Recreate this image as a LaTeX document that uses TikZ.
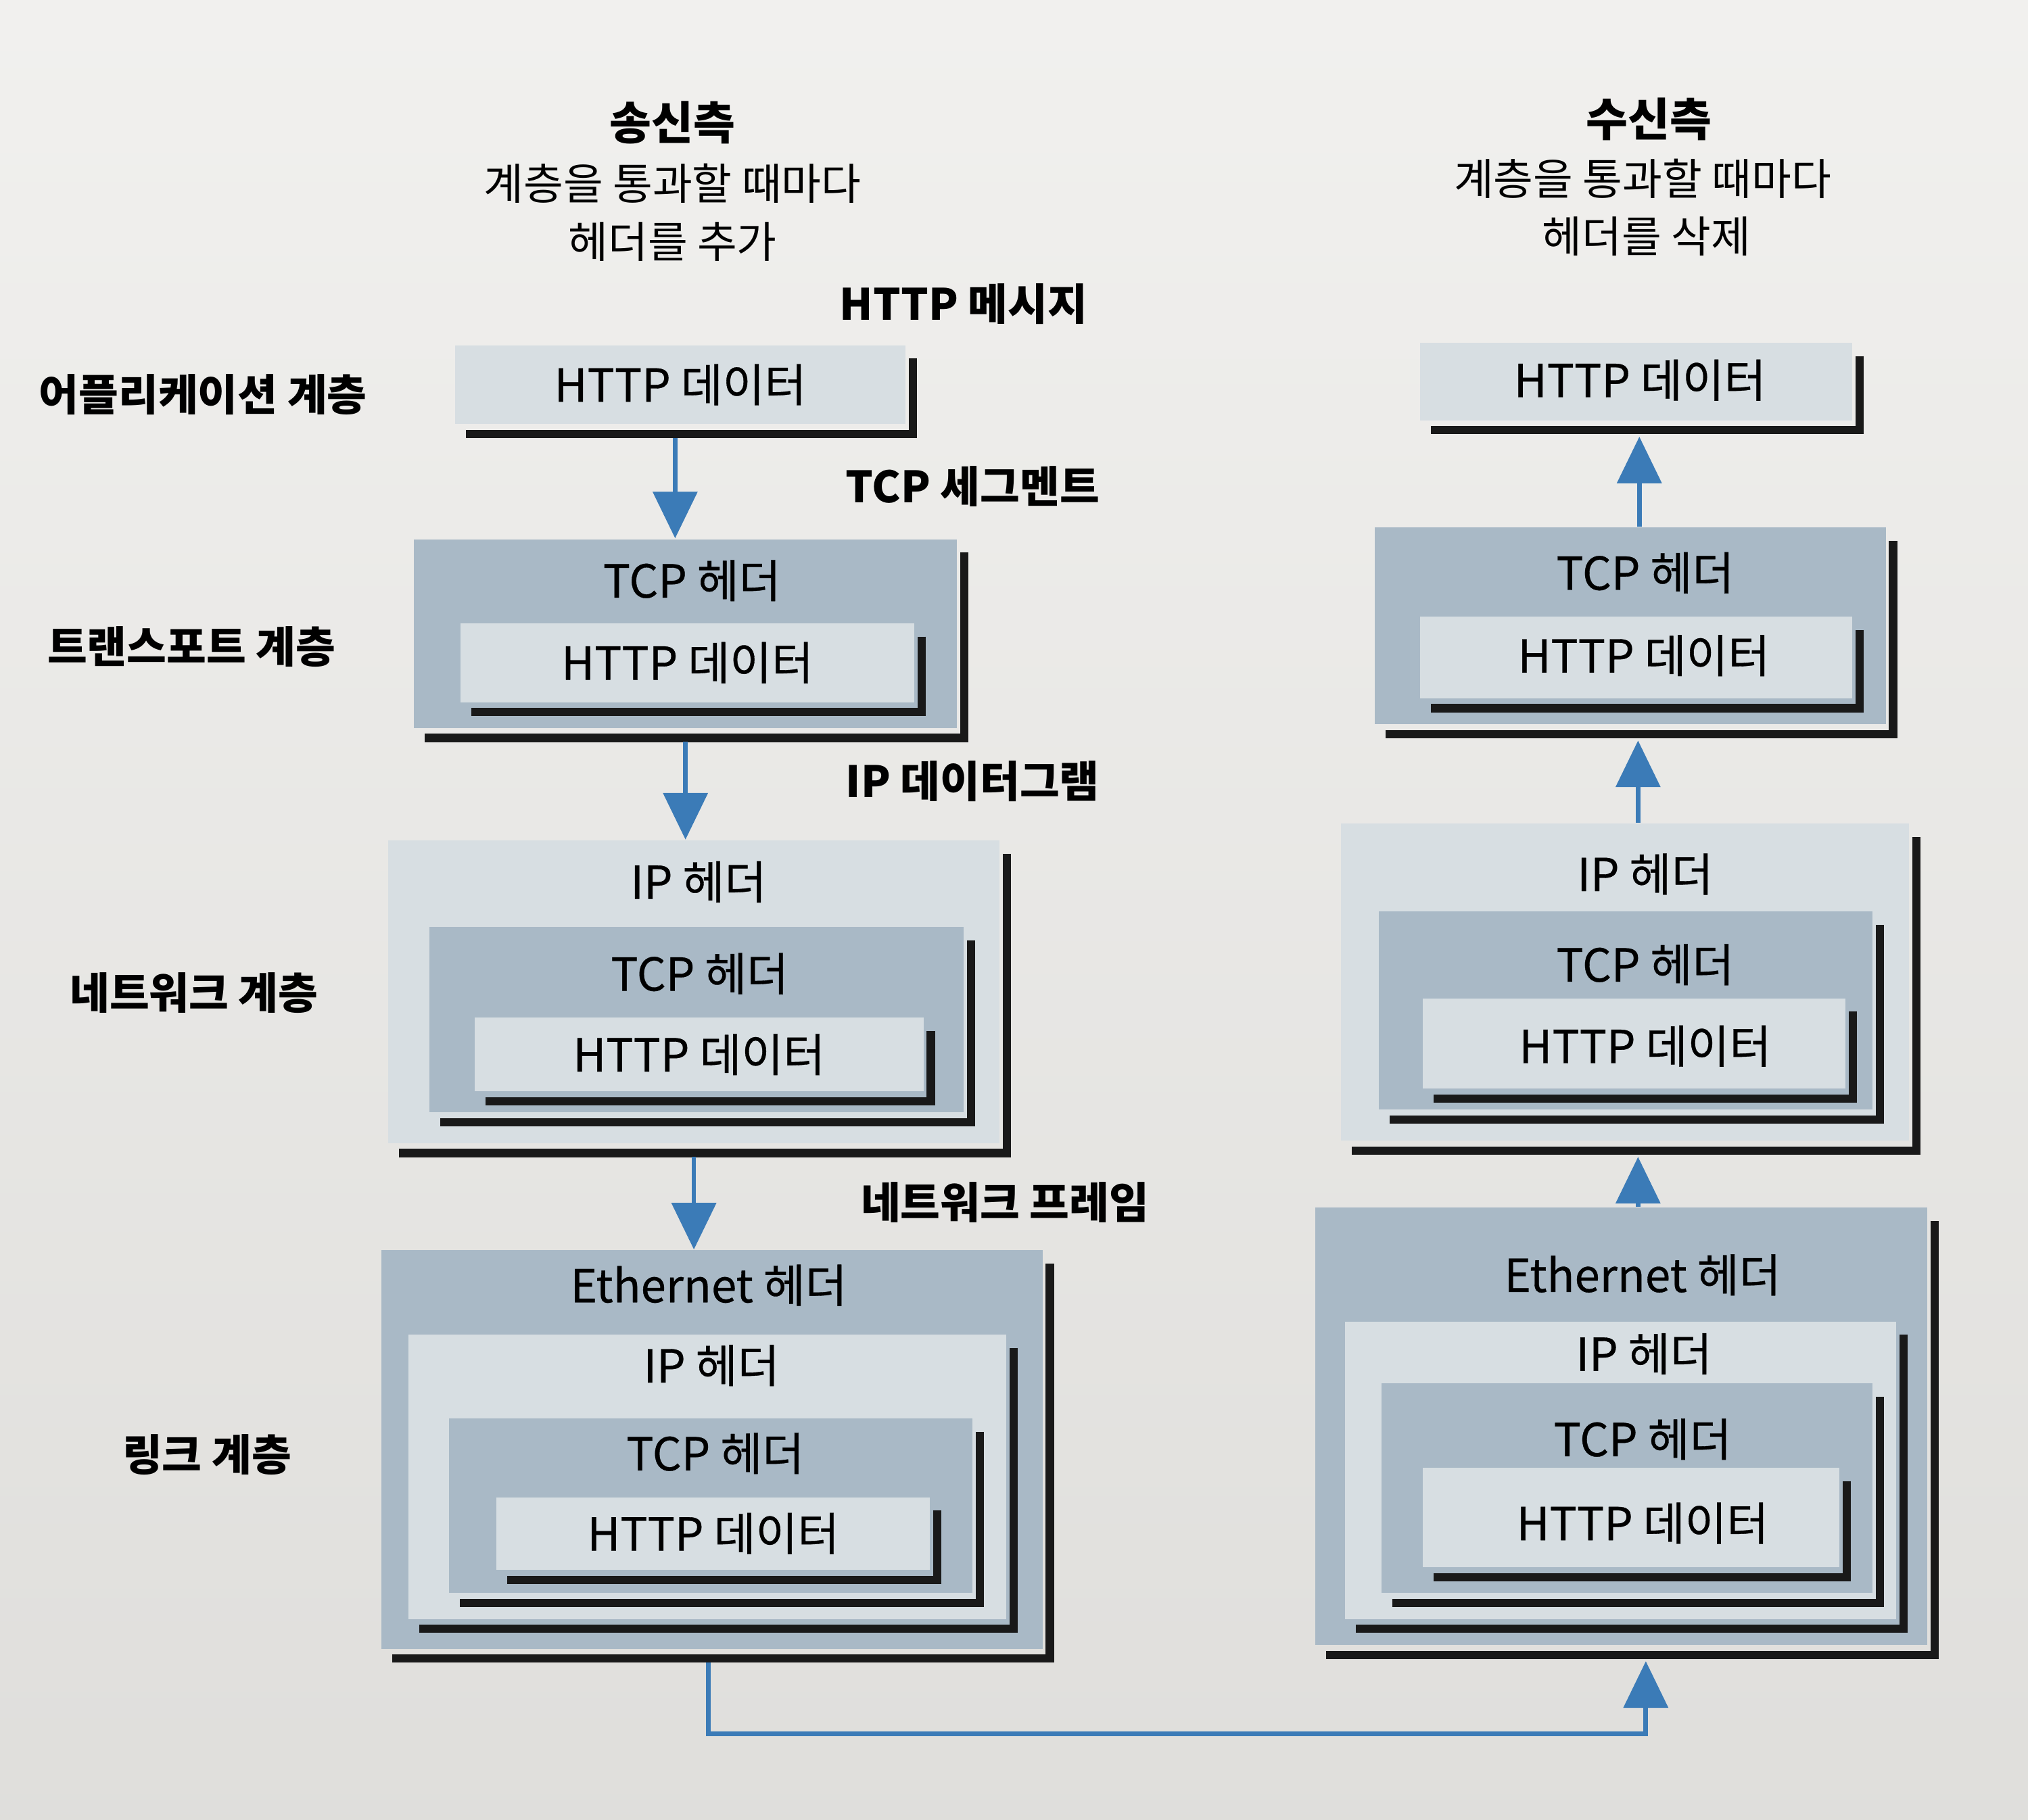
\documentclass[tikz,border=0pt]{standalone}
\usepackage{fontspec}
\setmainfont{Noto Sans CJK KR}
\newfontfamily\boxfont[FakeBold=0.5]{Noto Sans CJK KR}
\usetikzlibrary{arrows.meta,fit,calc}

\definecolor{paper}{HTML}{EBEAE7}
\definecolor{hdrdark}{HTML}{A9B9C6}
\definecolor{hdrlight}{HTML}{D7DEE2}
\definecolor{flowblue}{HTML}{3B7BB7}

% black L-shaped shadow on the right and bottom of a box
\newcommand{\boxshadow}[1]{%
  \draw[edge] ([shift={(5,11)}]#1.north east) -- ([shift={(5,7)}]#1.south east) -- ([shift={(9,7)}]#1.south west);}

\begin{document}
\begin{tikzpicture}[x=0.01cm,y=-0.01cm,
    dark/.style={fill=hdrdark,inner sep=0pt},
    light/.style={fill=hdrlight,inner sep=0pt},
    edge/.style={line width=1.8pt,black!90},
    flow/.style={line width=1pt,flowblue,-{Triangle[length=0.36cm,width=0.34cm]}},
    txt/.style={font=\boxfont\fontsize{10}{12}\selectfont},
    layer/.style={font=\fontsize{9.5}{11}\selectfont\bfseries},
    unit/.style={font=\fontsize{9.5}{11}\selectfont\bfseries}]
  \useasboundingbox (0,0) rectangle (1568,1407);
  \fill[top color=paper!70!white,bottom color=paper!95!black] (0,0) rectangle (1568,1407);

  % headings
  \node[font=\fontsize{10}{12}\selectfont\bfseries] (sendt) at (520,95) {송신측};
  \node[font=\fontsize{9.5}{12}\selectfont] (send1) at (520,142) {계층을 통과할 때마다};
  \node[font=\fontsize{9.5}{12}\selectfont] (send2) at (520,187) {헤더를 추가};
  \node[font=\fontsize{10}{12}\selectfont\bfseries] (recvt) at (1275,92) {수신측};
  \node[font=\fontsize{9.5}{12}\selectfont] (recv1) at (1270,138) {계층을 통과할 때마다};
  \node[font=\fontsize{9.5}{12}\selectfont] (recv2) at (1273,183) {헤더를 삭제};

  % layer names
  \node[layer] (lapp) at (157,305) {어플리케이션 계층};
  \node[layer] (ltr) at (148,500) {트랜스포트 계층};
  \node[layer] (lnet) at (150,768) {네트워크 계층};
  \node[layer] (llink) at (160,1125) {링크 계층};

  % data unit names
  \node[unit] (uapp) at (745,235) {HTTP 메시지};
  \node[unit] (utr) at (752,376) {TCP 세그멘트};
  \node[unit] (unet) at (752,604) {IP 데이터그램};
  \node[unit] (ulink) at (777,930) {네트워크 프레임};

  % sender: application
  \node[light,fit={(352,267) (700,328)}] (sapp) {};
  \boxshadow{sapp}
  \node[txt] at (sapp.center) {HTTP 데이터};

  % sender: transport
  \node[dark,fit={(320,417) (740,563)}] (str) {};
  \boxshadow{str}
  \node[txt] at (535,449) {TCP 헤더};
  \node[light,fit={(356,482) (707,543)}] (strh) {};
  \boxshadow{strh}
  \node[txt] at (strh.center) {HTTP 데이터};

  % sender: network
  \node[light,fit={(300,650) (773,884)}] (snet) {};
  \boxshadow{snet}
  \node[txt] at (540,682) {IP 헤더};
  \node[dark,fit={(332,717) (745,860)}] (snett) {};
  \boxshadow{snett}
  \node[txt] at (541,753) {TCP 헤더};
  \node[light,fit={(367,787) (714,844)}] (sneth) {};
  \boxshadow{sneth}
  \node[txt] at (sneth.center) {HTTP 데이터};

  % sender: link
  \node[dark,fit={(295,967) (806,1275)}] (slink) {};
  \boxshadow{slink}
  \node[txt] at (548,994) {Ethernet 헤더};
  \node[light,fit={(316,1032) (778,1252)}] (slinki) {};
  \boxshadow{slinki}
  \node[txt] at (550,1056) {IP 헤더};
  \node[dark,fit={(347,1097) (752,1232)}] (slinkt) {};
  \boxshadow{slinkt}
  \node[txt] at (553,1124) {TCP 헤더};
  \node[light,fit={(384,1158) (719,1214)}] (slinkh) {};
  \boxshadow{slinkh}
  \node[txt] at (slinkh.center) {HTTP 데이터};

  % receiver: application
  \node[light,fit={(1098,265) (1432,325)}] (rapp) {};
  \boxshadow{rapp}
  \node[txt] at (1268,294) {HTTP 데이터};

  % receiver: transport
  \node[dark,fit={(1063,408) (1458,560)}] (rtr) {};
  \boxshadow{rtr}
  \node[txt] at (1272,443) {TCP 헤더};
  \node[light,fit={(1098,477) (1432,540)}] (rtrh) {};
  \boxshadow{rtrh}
  \node[txt] at (1271,507) {HTTP 데이터};

  % receiver: network
  \node[light,fit={(1037,637) (1476,882)}] (rnet) {};
  \boxshadow{rnet}
  \node[txt] at (1272,676) {IP 헤더};
  \node[dark,fit={(1066,705) (1448,858)}] (rnett) {};
  \boxshadow{rnett}
  \node[txt] at (1272,746) {TCP 헤더};
  \node[light,fit={(1100,772) (1427,842)}] (rneth) {};
  \boxshadow{rneth}
  \node[txt] at (1272,809) {HTTP 데이터};

  % receiver: link
  \node[dark,fit={(1017,934) (1490,1272)}] (rlink) {};
  \boxshadow{rlink}
  \node[txt] at (1270,986) {Ethernet 헤더};
  \node[light,fit={(1040,1022) (1466,1252)}] (rlinki) {};
  \boxshadow{rlinki}
  \node[txt] at (1271,1047) {IP 헤더};
  \node[dark,fit={(1068,1070) (1448,1232)}] (rlinkt) {};
  \boxshadow{rlinkt}
  \node[txt] at (1270,1113) {TCP 헤더};
  \node[light,fit={(1100,1135) (1422,1212)}] (rlinkh) {};
  \boxshadow{rlinkh}
  \node[txt] at (1270,1178) {HTTP 데이터};

  % arrows
  \draw[flow] ([xshift=-0.04cm,yshift=-0.1cm]sapp.south) -- ([xshift=-0.04cm]sapp.south |- str.north);
  \draw[flow] ([yshift=-0.1cm]str.south) -- (str.south |- snet.north);
  \draw[flow] ([yshift=-0.1cm]snet.south) -- (snet.south |- slink.north);
  \draw[flow] ([xshift=0.07cm]rtr.north) -- ([xshift=0.07cm,yshift=-0.12cm]rtr.north |- rapp.south);
  \draw[flow] ([xshift=0.1cm]rnet.north) -- ([xshift=0.1cm,yshift=-0.12cm]rnet.north |- rtr.south);
  \draw[flow] ([xshift=0.13cm]rlink.north) -- ([xshift=0.13cm,yshift=-0.12cm]rlink.north |- rnet.south);
  \draw[flow] ([xshift=-0.03cm,yshift=-0.1cm]slink.south) -- ++(0,55) -| ([xshift=0.19cm,yshift=-0.12cm]rlink.south);
\end{tikzpicture}
\end{document}
